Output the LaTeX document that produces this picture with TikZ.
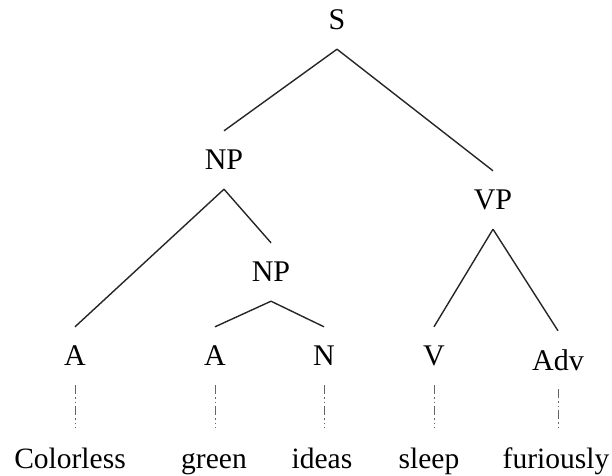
\documentclass[tikz,border=0pt]{standalone}
\usepackage{fontspec}
\setmainfont{Liberation Serif}
\begin{document}
\begin{tikzpicture}[x=1pt,y=-1pt,
  cat/.style={inner sep=0pt, minimum height=58pt, font=\fontsize{30}{34}\selectfont, text=black},
  word/.style={anchor=base, inner xsep=0pt, inner ysep=0pt, text height=40pt, text depth=6pt, font=\fontsize{29.5}{34}\selectfont, text=black},
  branch/.style={line width=1.4pt, draw=black!85},
  trace/.style={line width=0.9pt, draw=black!60, dash pattern=on 9pt off 3pt on 1.5pt off 3pt on 1.5pt off 3pt}]
\useasboundingbox (0,0) rectangle (612,475);
% category nodes
\node[cat] (S)   at (337,20)  {S};
\node[cat] (NP1) at (224,160) {NP};
\node[cat] (VP)  at (493,200) {VP};
\node[cat] (NP2) at (271,272) {NP};
\node[cat] (A1)  at (75,356)  {A};
\node[cat] (A2)  at (215,356) {A};
\node[cat] (N)   at (324,356) {N};
\node[cat] (V)   at (434,356) {V};
\node[cat] (Adv) at (558,360) {Adv};
% words
\node[word] (w1) at (70,468)  {Colorless};
\node[word] (w2) at (214,468) {green};
\node[word] (w3) at (322,468) {ideas};
\node[word] (w4) at (429,468) {sleep};
\node[word] (w5) at (556,468) {furiously};
% branches
\draw[branch] (S.south) -- (NP1.north);
\draw[branch] (S.south) -- (VP.north);
\draw[branch] (NP1.south) -- (A1.north);
\draw[branch] (NP1.south) -- (NP2.north);
\draw[branch] (NP2.south) -- (A2.north);
\draw[branch] (NP2.south) -- (N.north);
\draw[branch] (VP.south) -- (V.north);
\draw[branch] (VP.south) -- (Adv.north);
% traces to words
\draw[trace] (A1.south) -- (A1.south |- w1.north);
\draw[trace] (A2.south) -- (A2.south |- w2.north);
\draw[trace] (N.south) -- (N.south |- w3.north);
\draw[trace] (V.south) -- (V.south |- w4.north);
\draw[trace] (Adv.south) -- (Adv.south |- w5.north);
\end{tikzpicture}
\end{document}
